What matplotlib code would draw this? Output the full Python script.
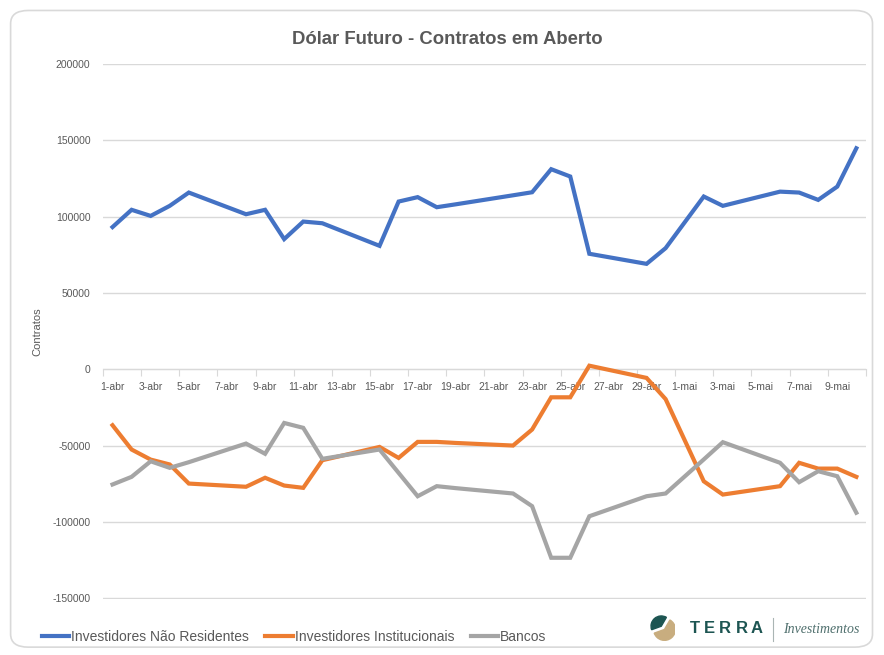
import matplotlib
matplotlib.use("Agg")
import matplotlib.pyplot as plt
from matplotlib.patches import FancyBboxPatch, Wedge
from matplotlib.lines import Line2D

plt.rcParams['font.family'] = ['Liberation Sans', 'DejaVu Sans']
plt.rcParams['axes.unicode_minus'] = False

# trading days, counted from 1-abr (31 = 1-mai)
days = [1, 2, 3, 4, 5, 8, 9, 10, 11, 12, 15, 16, 17, 18, 19,
        22, 23, 24, 25, 26, 29, 30, 32, 33, 36, 37, 38, 39, 40]

nao_residentes = [93200, 104500, 100500, 107100, 115800, 101600, 104500, 85300, 96800, 95700,
                  80900, 109900, 112800, 106200, 108100, 114000, 116000, 131100, 126300, 75700,
                  69100, 79400, 113200, 107100, 116400, 115800, 111000, 119700, 144800]
institucionais = [-36600, -52500, -59100, -62300, -74800, -76900, -71000, -76100, -77600, -59500,
                  -50800, -58000, -47500, -47500, -48200, -49900, -39400, -18300, -18300, 2400,
                  -5600, -19500, -73300, -82000, -76500, -61200, -65000, -65000, -70400]
bancos = [-75400, -70400, -60200, -64500, -60800, -48600, -55300, -35100, -38300, -58600,
          -52500, -67800, -83100, -76500, -77800, -81300, -89600, -123400, -123400, -96200,
          -83100, -81300, -59000, -47700, -61200, -73900, -66700, -70000, -93900]

tick_days = list(range(1, 40, 2))
tick_labels = [f"{d}-abr" for d in range(1, 31, 2)] + [f"{d}-mai" for d in range(1, 10, 2)]

series = [("Investidores Não Residentes", nao_residentes, "#4472C4"),
          ("Investidores Institucionais", institucionais, "#ED7D31"),
          ("Bancos", bancos, "#A5A5A5")]

fig = plt.figure(figsize=(8.84, 6.55), dpi=100)
fig.patch.set_facecolor("white")

# rounded chart border
border = FancyBboxPatch((0.012, 0.012), 0.975, 0.972, boxstyle="round,pad=0,rounding_size=0.02",
                        transform=fig.transFigure, facecolor="none", edgecolor="#d9d9d9",
                        linewidth=1.2, zorder=-1)
fig.add_artist(border)

ax = fig.add_axes([0.1165, 0.0855, 0.863, 0.8168])
ax.set_facecolor("none")

for name, vals, col in series:
    ax.plot(days, vals, color=col, linewidth=3, label=name, solid_joinstyle="miter", zorder=3)

ax.set_xlim(0.5, 40.5)
ax.set_ylim(-150400, 200000)
ax.set_yticks(range(-150000, 200001, 50000))
ax.yaxis.grid(True, color="#d9d9d9", linewidth=1)
ax.set_axisbelow(True)
for s in ["top", "right", "left"]:
    ax.spines[s].set_visible(False)
ax.spines["bottom"].set_position(("data", 0))
ax.spines["bottom"].set_color("#d9d9d9")
ax.tick_params(axis="y", length=0, pad=9, labelsize=7.5, labelcolor="#595959")

# tick marks between categories, labels centred on the day
ax.set_xticks([d - 0.5 for d in tick_days] + [40.5])
ax.set_xticklabels([])
ax.tick_params(axis="x", which="major", length=5, color="#d9d9d9", direction="out")
ax.set_xticks(tick_days, minor=True)
ax.set_xticklabels(tick_labels, minor=True)
ax.tick_params(axis="x", which="minor", length=0, pad=9, labelsize=7.5, labelcolor="#595959")

ax.set_ylabel("Contratos", fontsize=8, color="#595959", labelpad=7)

fig.text(0.506, 0.939, "Dólar Futuro - Contratos em Aberto", ha="center", va="center",
         fontsize=13.3, fontweight="bold", color="#595959")

handles = [Line2D([], [], color=c, linewidth=3) for _, _, c in series]
fig.legend(handles, [n for n, _, _ in series], loc="center left", bbox_to_anchor=(0.033, 0.027),
           ncol=3, frameon=False, fontsize=10, handlelength=2.0, handletextpad=0.1,
           columnspacing=1.2, labelcolor="#595959")

# logo
lax = fig.add_axes([0.735, 0.021, 0.029, 0.04])
lax.set_xlim(-1, 1)
lax.set_ylim(-1, 1)
lax.set_aspect("equal")
lax.axis("off")
lax.add_patch(Wedge((0.15, -0.1), 0.85, 200, 60, color="#c8ad7f"))
lax.add_patch(Wedge((-0.1, 0.15), 0.8, 60, 200, color="#1d5552"))
for ch, px in zip("TERRA", [695.3, 709.8, 725.3, 741.8, 756.7]):
    fig.text(px / 884, 0.0405, ch, ha="center", va="center", fontsize=12, fontweight="bold",
             color="#1d5552")
fig.add_artist(Line2D([0.874, 0.874], [0.022, 0.057], transform=fig.transFigure,
                      color="#aab5b4", linewidth=0.8))
fig.text(0.886, 0.0385, "Investimentos", ha="left", va="center", fontsize=10, style="italic",
         color="#4f6f6d", family=["Liberation Serif", "DejaVu Serif"])

fig.savefig("out.png", dpi=100)
